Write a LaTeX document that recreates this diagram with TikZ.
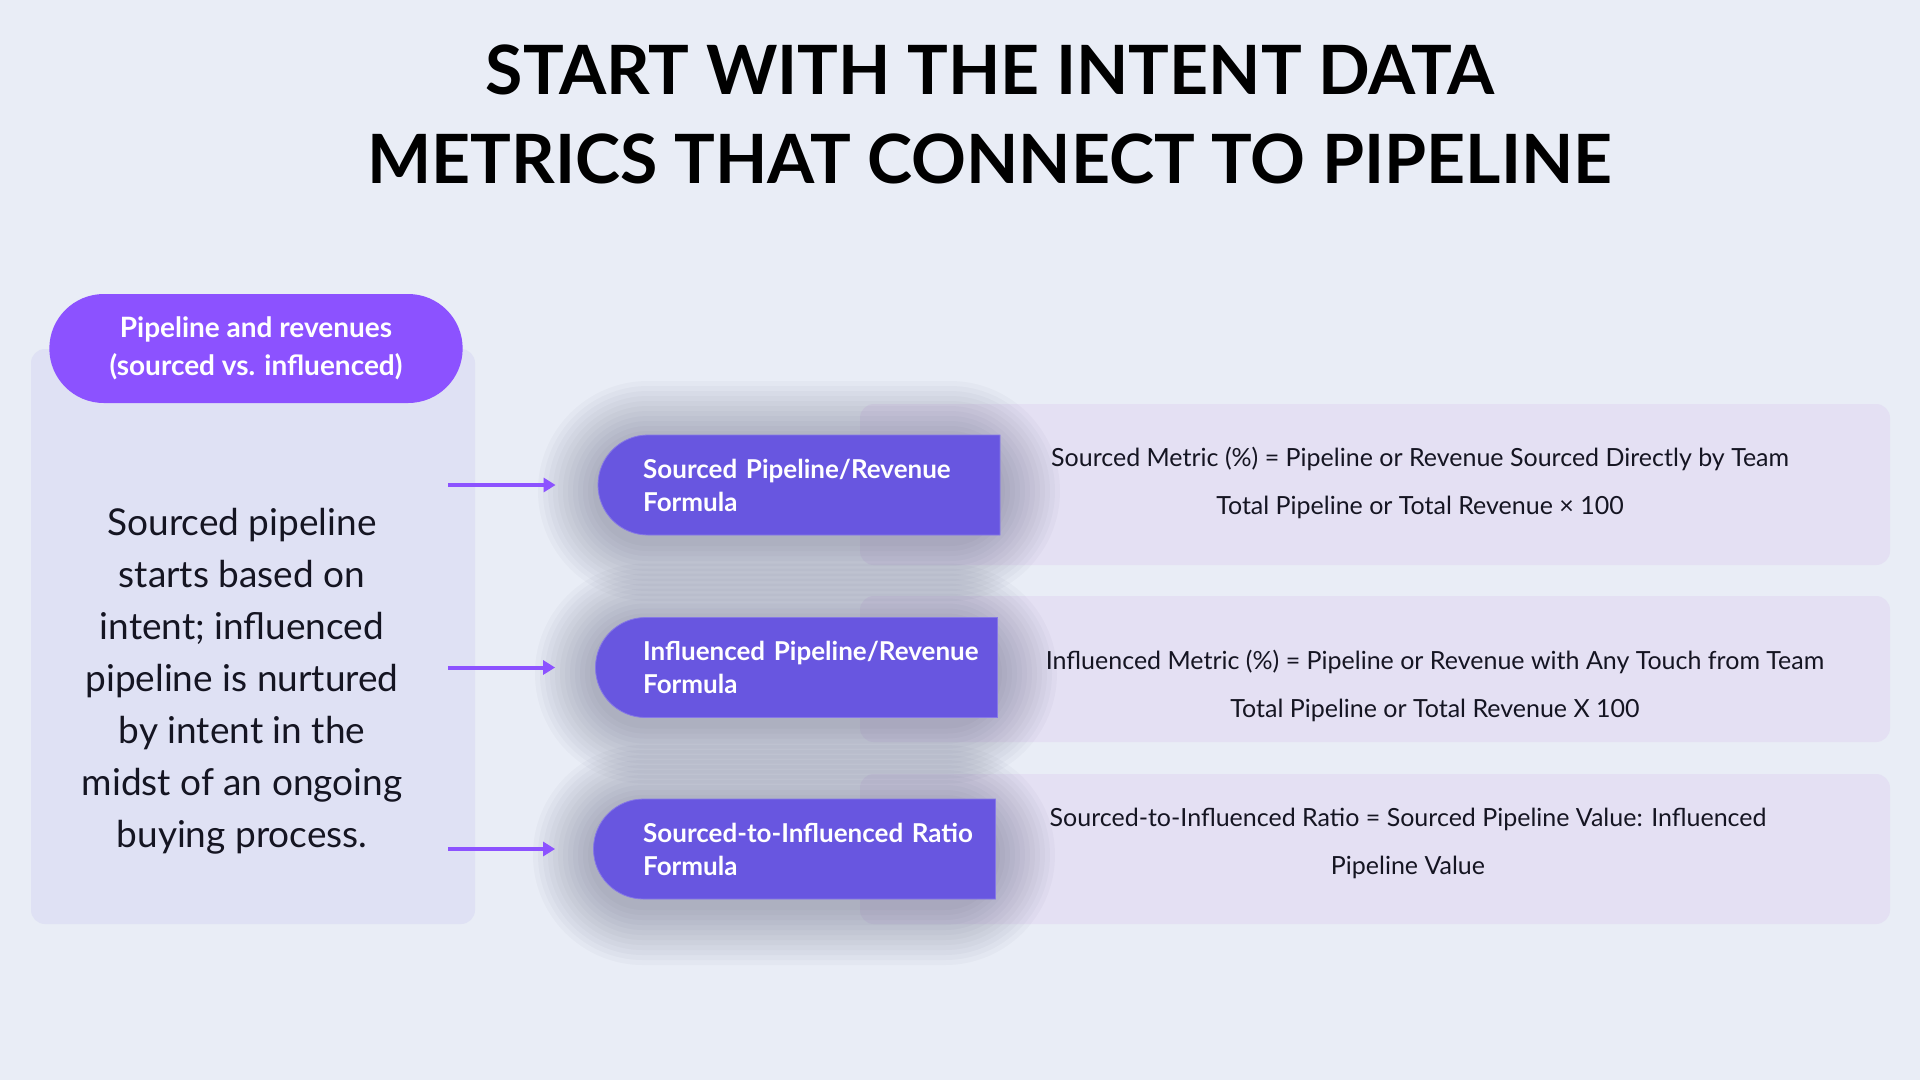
\documentclass[tikz,border=0pt]{standalone}
\usepackage{fontspec}
\setmainfont{Lato}
\usetikzlibrary{arrows.meta,shapes.misc}
\definecolor{pagebg}{HTML}{E9EDF6}
\definecolor{panelfill}{HTML}{DFE1F4}
\definecolor{headviolet}{HTML}{8C52FF}
\definecolor{pillindigo}{HTML}{6856E0}
\definecolor{boxlilac}{HTML}{E4E0F3}
\definecolor{shadowink}{HTML}{3A3D5C}
\definecolor{ink}{HTML}{151522}
\begin{document}
\begin{tikzpicture}[x=1pt,y=-1pt,
    header/.style={rounded rectangle, fill=headviolet, text=white,
      font=\fontsize{28}{38}\selectfont\bfseries, align=center,
      minimum height=109pt, minimum width=420pt},
    pill/.style={rounded rectangle, rounded rectangle right arc=none,
      fill=pillindigo, draw=pillindigo!80!white, line width=0.8pt,
      minimum height=100pt, minimum width=402pt, inner sep=0pt},
    pilltext/.style={anchor=west, text=white, font=\fontsize{26}{33}\selectfont\bfseries,
      text width=355pt, align=left, inner sep=0pt},
    metricbox/.style={fill=boxlilac, rounded corners=14pt, minimum width=1030pt},
    metric/.style={font=\fontsize{25}{48}\selectfont, align=center, text=ink},
    flow/.style={-{Triangle[length=12pt,width=14pt]}, line width=4pt, draw=headviolet}]
    \fill[pagebg] (0,0) rectangle (1920,1080);
    \useasboundingbox (0,0) rectangle (1920,1080);
    \node[font=\fontsize{68}{89}\selectfont\bfseries, align=center, text=black] (title) at (990,114.5)
      {START WITH THE INTENT DATA\\METRICS THAT CONNECT TO PIPELINE};
    \node[fill=panelfill, rounded corners=14pt, minimum width=444pt, minimum height=575pt] (panel) at (253,636.5) {};
    \node[header] (head) at (256,348.5) {Pipeline and revenues\\(sourced vs. influenced)};
    \node[font=\fontsize{37}{52}\selectfont, align=center, text=ink] (body) at (242,681)
      {Sourced pipeline\\starts based on\\intent; influenced\\pipeline is nurtured\\by intent in the\\midst of an ongoing\\buying process.};
    \node[metricbox, minimum height=161pt] (box1) at (1375,484.5) {};
    \node[metricbox, minimum height=146pt] (box2) at (1375,669) {};
    \node[metricbox, minimum height=150pt] (box3) at (1375,849) {};
    \foreach \l/\t in {598/435, 595/617.5, 593/799}
      \foreach \e in {5,10,...,60}
        \fill[shadowink, opacity=0.03, rounded corners=50+\e]
          (\l-\e,\t-\e+6) rectangle (\l+402+\e,\t+100+\e+6);
    \node[pill] (p1) at (799,485) {};
    \node[pill] (p2) at (796.5,667.5) {};
    \node[pill] (p3) at (794.5,849) {};
    \node[pilltext] (f1) at (643,485) {Sourced Pipeline/Revenue\\Formula};
    \node[pilltext] (f2) at (643,667.5) {Influenced Pipeline/Revenue\\Formula};
    \node[pilltext] (f3) at (643,849) {Sourced-to-Influenced Ratio\\Formula};
    \node[metric] (m1) at (1420,482.5) {Sourced Metric (\%) = Pipeline or Revenue Sourced Directly by Team\\Total Pipeline or Total Revenue × 100};
    \node[metric] (m2) at (1435,685.5) {Influenced Metric (\%) = Pipeline or Revenue with Any Touch from Team\\Total Pipeline or Total Revenue X 100};
    \node[metric] (m3) at (1408,843) {Sourced-to-Influenced Ratio = Sourced Pipeline Value: Influenced\\Pipeline Value};
    \draw[flow] ([xshift=-27pt]panel.east |- p1.west) -- ([xshift=-42pt]p1.west);
    \draw[flow] ([xshift=-27pt]panel.east |- p2.west) -- ([xshift=-40pt]p2.west);
    \draw[flow] ([xshift=-27pt]panel.east |- p3.west) -- ([xshift=-38pt]p3.west);
\end{tikzpicture}
\end{document}
